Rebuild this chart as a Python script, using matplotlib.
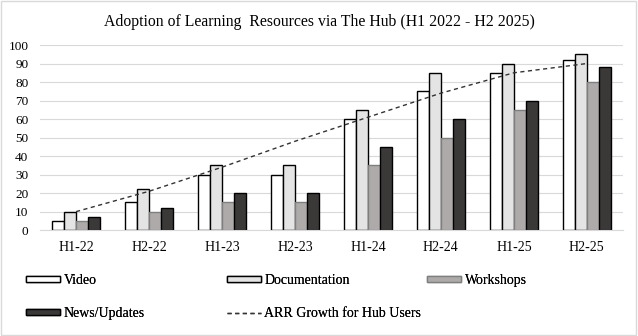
import matplotlib
matplotlib.use("Agg")
import matplotlib.pyplot as plt
import numpy as np
from matplotlib.patches import Rectangle

categories = ["H1-22", "H2-22", "H1-23", "H2-23", "H1-24", "H2-24", "H1-25", "H2-25"]
video = [5, 15, 30, 30, 60, 75, 85, 92]
documentation = [10, 22, 35, 35, 65, 85, 90, 95]
workshops = [5, 10, 15, 15, 35, 50, 65, 80]
news = [7, 12, 20, 20, 45, 60, 70, 88]
arr_growth = [10, 21, 34, 48, 61, 74, 85, 90]

plt.rcParams['font.family'] = ['Liberation Serif', 'DejaVu Serif']

fig = plt.figure(figsize=(6.38, 3.36), dpi=100)
ax = fig.add_axes([0.062, 0.315, 0.915, 0.551])

x = np.arange(len(categories))
w = 0.165
specs = [
    (video, "Video", "white", "black"),
    (documentation, "Documentation", "#e4e4e4", "black"),
    (workshops, "Workshops", "#aeaaaa", "#7f7f7f"),
    (news, "News/Updates", "#3b3838", "black"),
]
handles = []
for i, (vals, lab, fc, ec) in enumerate(specs):
    b = ax.bar(x + (i - 1.5) * w, vals, width=w, color=fc, edgecolor=ec,
               linewidth=1.0, label=lab, zorder=2)
    handles.append(b)
ln, = ax.plot(x, arr_growth, linestyle=(0, (3, 2.5)), color="#333333", linewidth=1.0,
              label="ARR Growth for Hub Users", zorder=3)

ax.set_xlim(-0.5, len(categories) - 0.5)
ax.set_ylim(0, 100)
ax.set_yticks(range(0, 101, 10))
ax.set_xticks(x)
ax.set_xticklabels(categories)
ax.grid(axis="y", color="#d9d9d9", linewidth=0.8, zorder=0)
for s in ["top", "right", "left"]:
    ax.spines[s].set_visible(False)
ax.spines["bottom"].set_color("#d9d9d9")
ax.tick_params(axis="both", length=0, colors="black")
ax.tick_params(axis="x", pad=8, labelsize=10)
ax.tick_params(axis="y", pad=8, labelsize=9.5)

fig.text(0.5, 0.935, "Adoption of Learning  Resources via The Hub (H1 2022 - H2 2025)",
         ha="center", va="center", fontsize=11.3)

columns = [
    ([handles[0], handles[3]], ["Video", "News/Updates"], 26),
    ([handles[1], ln], ["Documentation", "ARR Growth for Hub Users"], 227),
    ([handles[2]], ["Workshops"], 427),
]
for hs, labs, px in columns:
    leg = fig.legend(handles=hs, labels=labs, loc="upper left",
                     bbox_to_anchor=(px / 638, 1 - 274 / 336), ncol=1,
                     frameon=False, fontsize=10, handlelength=2.45, handleheight=0.35,
                     handletextpad=0.25, labelspacing=1.45, borderpad=0,
                     borderaxespad=0)
    fig.add_artist(leg)

fig.add_artist(Rectangle((0.002, 0.003), 0.995, 0.993, transform=fig.transFigure,
                         fill=False, edgecolor="#d9d9d9", linewidth=1.0))

fig.savefig("out.png", dpi=100)
